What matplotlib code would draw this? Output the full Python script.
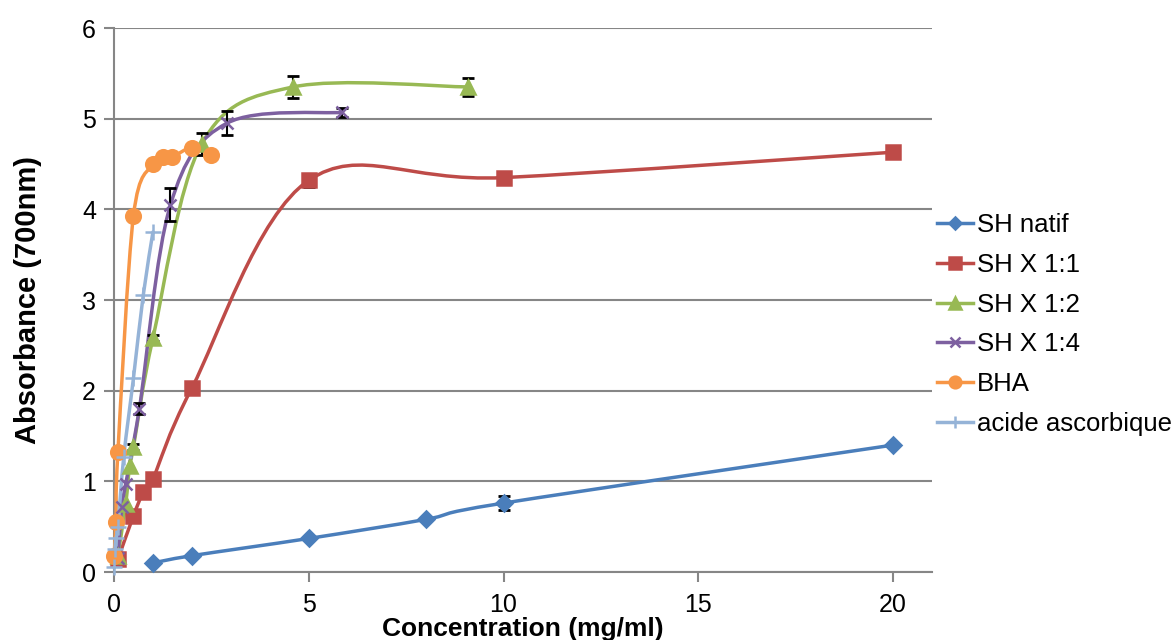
import numpy as np
import matplotlib
matplotlib.use("Agg")
import matplotlib.pyplot as plt
from matplotlib.path import Path
from matplotlib.patches import PathPatch
from matplotlib.lines import Line2D

plt.rcParams['font.family'] = ['Liberation Sans', 'DejaVu Sans']

# data
natif_x = [1, 2, 5, 8, 10, 20]
natif_y = [0.10, 0.18, 0.37, 0.58, 0.76, 1.40]
natif_err = [0, 0, 0, 0, 0.08, 0]

x11_x = [0.1, 0.5, 0.75, 1.0, 2, 5, 10, 20]
x11_y = [0.14, 0.62, 0.88, 1.03, 2.03, 4.32, 4.35, 4.63]
x11_err = [0, 0, 0, 0, 0.07, 0.07, 0.06, 0]

x12_x = [0.1, 0.3, 0.4, 0.5, 1.0, 2.25, 4.6, 9.1]
x12_y = [0.18, 0.75, 1.17, 1.38, 2.58, 4.72, 5.35, 5.35]
x12_err = [0, 0, 0, 0.03, 0.03, 0.12, 0.12, 0.10]

x14_x = [0.1, 0.2, 0.3, 0.65, 1.45, 2.9, 5.85]
x14_y = [0.15, 0.72, 0.97, 1.80, 4.05, 4.95, 5.07]
x14_err = [0, 0, 0, 0.06, 0.18, 0.13, 0.05]

bha_x = [0, 0.05, 0.1, 0.5, 1.0, 1.25, 1.5, 2.0, 2.5]
bha_y = [0.18, 0.55, 1.32, 3.93, 4.50, 4.58, 4.58, 4.68, 4.60]
bha_err = [0, 0, 0, 0, 0, 0, 0, 0, 0]

aa_x = [0, 0.025, 0.05, 0.1, 0.25, 0.5, 0.75, 1.0]
aa_y = [0.05, 0.25, 0.37, 0.50, 1.27, 2.14, 3.05, 3.75]
aa_err = [0, 0, 0, 0, 0, 0, 0, 0]

labels = ["SH natif", "SH X 1:1", "SH X 1:2", "SH X 1:4", "BHA", "acide ascorbique"]
colors = ["#4A7EBB", "#BE4B48", "#98B954", "#7D60A0", "#F79646", "#95B3D7"]
markers = ["D", "s", "^", "x", "o", "+"]
msizes = [8, 10, 10, 9, 10.5, 11]

series = [(natif_x, natif_y, natif_err), (x11_x, x11_y, x11_err),
          (x12_x, x12_y, x12_err), (x14_x, x14_y, x14_err),
          (bha_x, bha_y, bha_err), (aa_x, aa_y, aa_err)]


def smooth_path(x, y):
    # excel-like smoothed line (catmull-rom as cubic bezier)
    pts = np.column_stack([x, y]).astype(float)
    n = len(pts)
    verts = [pts[0]]
    codes = [Path.MOVETO]
    for i in range(n - 1):
        p0 = pts[max(i - 1, 0)]
        p1 = pts[i]
        p2 = pts[i + 1]
        p3 = pts[min(i + 2, n - 1)]
        verts += [p1 + (p2 - p0) / 6, p2 - (p3 - p1) / 6, p2]
        codes += [Path.CURVE4] * 3
    return Path(verts, codes)


fig = plt.figure(figsize=(11.76, 6.4), dpi=100)
ax = fig.add_axes([114 / 1176, 68 / 640, 818 / 1176, 544 / 640])

grey = "#868686"
handles = []
for (x, y, err), c, m, ms in zip(series, colors, markers, msizes):
    ax.add_patch(PathPatch(smooth_path(x, y), facecolor="none", edgecolor=c,
                           lw=2.5, capstyle="round", joinstyle="round",
                           clip_on=False, zorder=3))
    ex = [a for a, e in zip(x, err) if e > 0]
    ey = [b for b, e in zip(y, err) if e > 0]
    ee = [e for e in err if e > 0]
    if ee:
        ax.errorbar(ex, ey, yerr=ee, fmt="none", ecolor="black", elinewidth=1.5,
                    capsize=4, capthick=2, zorder=4, clip_on=False)
    ax.plot(x, y, ls="none", marker=m, ms=ms, color=c, mec=c, mew=1.8,
            clip_on=False, zorder=5)
    handles.append(Line2D([], [], color=c, lw=2.5, marker=m, ms=ms * 0.8, mew=1.8))

ax.set_xlim(0, 21)
ax.set_ylim(0, 6)
ax.set_xticks([0, 5, 10, 15, 20])
ax.set_yticks(range(7))
ax.spines["top"].set_visible(False)
ax.spines["right"].set_visible(False)
for s in ["left", "bottom"]:
    ax.spines[s].set_color(grey)
    ax.spines[s].set_linewidth(1.5)
ax.grid(axis="y", color=grey, lw=1.5)
ax.set_axisbelow(True)
ax.tick_params(axis="both", direction="out", length=7, width=1.5, color=grey,
               labelsize=18)
ax.tick_params(axis="x", pad=8)
ax.tick_params(axis="y", pad=6)

ax.set_xlabel("Concentration (mg/ml)", fontsize=19, fontweight="bold", va="center")
ax.xaxis.set_label_coords(0.5, -0.105)
ax.set_ylabel("Absorbance (700nm)", fontsize=21, fontweight="bold", va="center")
ax.yaxis.set_label_coords(-0.105, 0.5)

fig.legend(handles, labels, loc="center left", bbox_to_anchor=(937 / 1176, 0.493),
           frameon=False, fontsize=18.5, handlelength=1.4, handletextpad=0.15,
           labelspacing=0.62, borderpad=0, borderaxespad=0)

fig.savefig("out.png", dpi=100)
